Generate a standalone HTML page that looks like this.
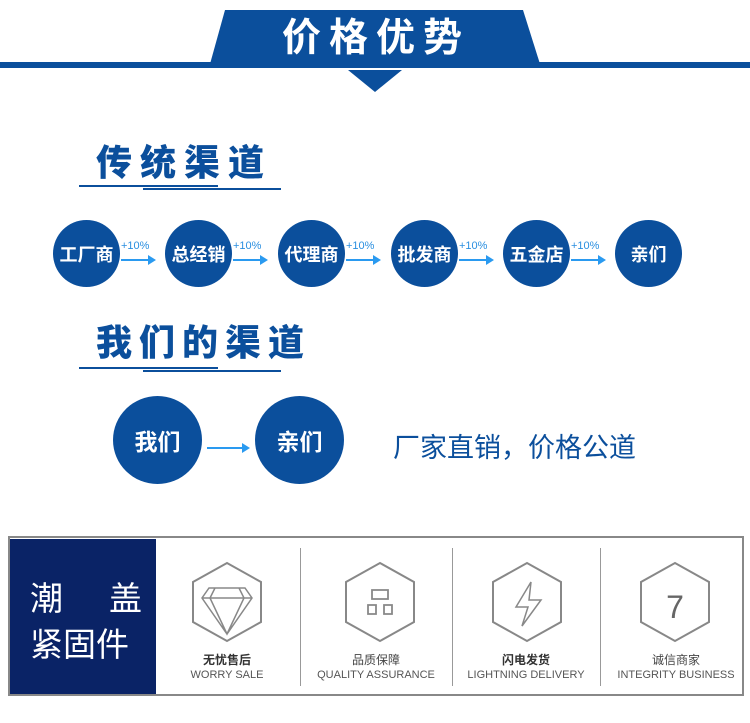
<!DOCTYPE html>
<html><head><meta charset="utf-8"><style>
*{margin:0;padding:0;box-sizing:border-box}
body{width:750px;height:723px;background:#fff;position:relative;overflow:hidden;font-family:"Liberation Sans","Noto Sans CJK SC",sans-serif}
.a{position:absolute}
.c{position:absolute;border-radius:50%;background:#0b4f9c;color:#fff;font-weight:bold;display:flex;align-items:center;justify-content:center;font-family:"Noto Sans CJK SC",sans-serif}
.h{position:absolute;color:#0b4f9c;font-weight:900;font-size:36px;letter-spacing:6px;font-family:"Noto Sans CJK SC",sans-serif;line-height:1}
.ln{position:absolute;height:2px;background:#0b4f9c}
.pc{position:absolute;font-size:11px;color:#2a8fe0}
.ar{position:absolute;height:2px;background:#2a9af0}
.ar:after{content:"";position:absolute;right:-2px;top:-4px;border-left:8px solid #2a9af0;border-top:5px solid transparent;border-bottom:5px solid transparent}
.cell{position:absolute;top:560px;width:140px;text-align:center;color:#444}
.cell .t{font-size:12px;margin-top:6px;font-family:"Noto Sans CJK SC",sans-serif}
.cell .e{font-size:11px;color:#555;margin-top:1px}
.dv{position:absolute;top:548px;width:1px;height:138px;background:#999}
</style></head><body>
<svg class="a" style="left:0;top:0" width="750" height="100">
<polygon points="225,10 523,10 540,64 210,64" fill="#0b4f9c"/>
<rect x="0" y="62" width="750" height="6" fill="#0b4f9c"/>
<polygon points="348,70 402,70 375,92" fill="#0b4f9c"/>
<text x="376" y="51" text-anchor="middle" fill="#fff" font-size="39" font-weight="bold" font-family="Noto Sans CJK SC,sans-serif" letter-spacing="8">价格优势</text>
</svg>
<div class="h" style="left:96px;top:142px;letter-spacing:8px">传统渠道</div>
<div class="ln" style="left:79px;top:185px;width:139px"></div>
<div class="ln" style="left:143px;top:188px;width:138px"></div>

<div class="c" style="left:53px;top:220px;width:67px;height:67px;font-size:18px">工厂商</div>
<div class="c" style="left:165px;top:220px;width:67px;height:67px;font-size:18px">总经销</div>
<div class="c" style="left:278px;top:220px;width:67px;height:67px;font-size:18px">代理商</div>
<div class="c" style="left:391px;top:220px;width:67px;height:67px;font-size:18px">批发商</div>
<div class="c" style="left:503px;top:220px;width:67px;height:67px;font-size:18px">五金店</div>
<div class="c" style="left:615px;top:220px;width:67px;height:67px;font-size:18px">亲们</div>
<div class="pc" style="left:121px;top:240px">+10%</div><div class="ar" style="left:121px;top:259px;width:33px"></div>
<div class="pc" style="left:233px;top:240px">+10%</div><div class="ar" style="left:233px;top:259px;width:33px"></div>
<div class="pc" style="left:346px;top:240px">+10%</div><div class="ar" style="left:346px;top:259px;width:33px"></div>
<div class="pc" style="left:459px;top:240px">+10%</div><div class="ar" style="left:459px;top:259px;width:33px"></div>
<div class="pc" style="left:571px;top:240px">+10%</div><div class="ar" style="left:571px;top:259px;width:33px"></div>

<div class="h" style="left:96px;top:322px;letter-spacing:7px">我们的渠道</div>
<div class="ln" style="left:79px;top:367px;width:139px"></div>
<div class="ln" style="left:143px;top:370px;width:138px"></div>

<div class="c" style="left:113px;top:396px;width:89px;height:88px;font-size:23px">我们</div>
<div class="c" style="left:255px;top:396px;width:89px;height:88px;font-size:23px">亲们</div>
<div class="ar" style="left:207px;top:447px;width:41px"></div>
<div class="a" style="left:393px;top:428px;font-size:27px;color:#0b4f9c;font-family:'Noto Sans CJK SC',sans-serif;white-space:nowrap;line-height:36px">厂家直销，价格公道</div>

<div class="a" style="left:8px;top:536px;width:736px;height:160px;border:2px solid #888"></div>
<div class="a" style="left:10px;top:539px;width:146px;height:155px;background:#0a2366;color:#fff;font-size:33px;font-family:'Noto Sans CJK SC',sans-serif;line-height:46px;padding:34px 0 0 20px">
<div style="display:flex;justify-content:space-between;width:112px"><span>潮</span><span>盖</span></div>
<div>紧固件</div></div>
<div class="dv" style="left:300px"></div><div class="dv" style="left:452px"></div><div class="dv" style="left:600px"></div>

<svg class="a" style="left:0;top:560px" width="750" height="100" fill="none" stroke="#888" stroke-width="2">
<polygon points="227,3 261,22 261,62 227,81 193,62 193,22"/>
<polygon points="380,3 414,22 414,62 380,81 346,62 346,22"/>
<polygon points="527,3 561,22 561,62 527,81 493,62 493,22"/>
<polygon points="675,3 709,22 709,62 675,81 641,62 641,22"/>
<path d="M209,28 L245,28 L252,38 L227,74 L202,38 Z M202,38 L252,38 M215,28 L210,38 L227,74 L244,38 L239,28" stroke-width="1.5"/>
<path d="M372,30 h16 v9 h-16 z M368,45 h8 v9 h-8 z M384,45 h8 v9 h-8 z" stroke-width="1.8"/>
<path d="M531,22 L516,47 L528,47 L522,66 L541,40 L529,40 Z" stroke-width="1.5"/>
<text x="675" y="58" fill="#666" stroke="none" font-size="32" text-anchor="middle" font-family="Liberation Sans">7</text>
</svg>
<div class="cell" style="left:157px;top:651px"><div class="t" style="margin:0;color:#333;font-weight:bold">无忧售后</div><div class="e">WORRY SALE</div></div>
<div class="cell" style="left:306px;top:651px"><div class="t" style="margin:0">品质保障</div><div class="e">QUALITY ASSURANCE</div></div>
<div class="cell" style="left:456px;top:651px"><div class="t" style="margin:0;color:#333;font-weight:bold">闪电发货</div><div class="e">LIGHTNING DELIVERY</div></div>
<div class="cell" style="left:606px;top:651px"><div class="t" style="margin:0">诚信商家</div><div class="e">INTEGRITY BUSINESS</div></div>
</body></html>
